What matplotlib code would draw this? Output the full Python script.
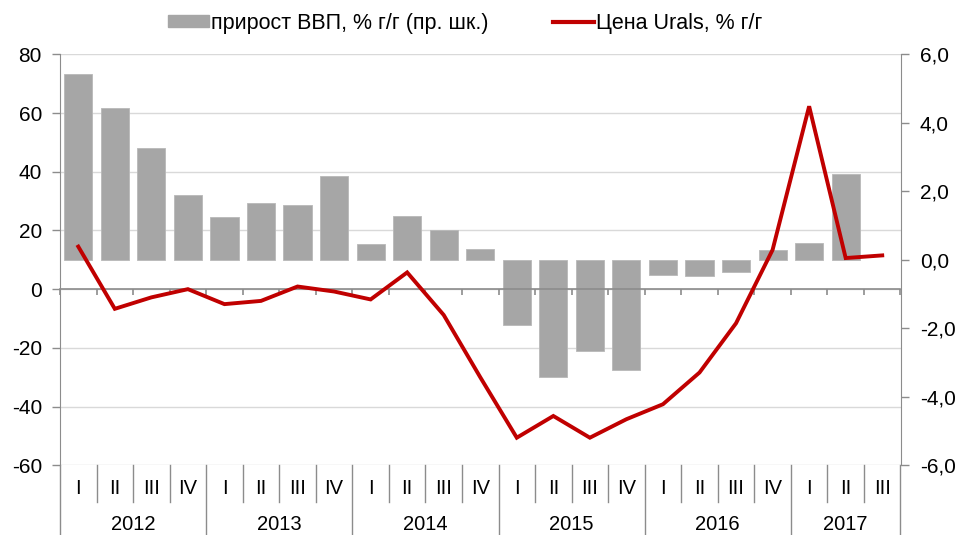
import matplotlib
matplotlib.use("Agg")
import matplotlib.pyplot as plt
import numpy as np
from matplotlib.lines import Line2D
from matplotlib.patches import Patch

plt.rcParams['font.family'] = ['Liberation Sans', 'DejaVu Sans']

# ---- data ----
years = ["2012", "2013", "2014", "2015", "2016", "2017"]
quarters_per_year = [4, 4, 4, 4, 4, 3]
quarter_names = ["I", "II", "III", "IV"]

urals = [14.5, -6.7, -2.8, 0.0,
         -5.1, -4.0, 0.9, -0.8,
         -3.5, 5.7, -8.8, -30.0,
         -50.6, -43.2, -50.6, -44.3,
         -39.2, -28.4, -11.6, 13.4,
         62.3, 10.6, 11.5]

gdp = [5.42, 4.42, 3.26, 1.89,
       1.24, 1.67, 1.61, 2.46,
       0.45, 1.28, 0.86, 0.32,
       -1.90, -3.41, -2.65, -3.23,
       -0.43, -0.48, -0.36, 0.29,
       0.48, 2.50, np.nan]

left_ticks = [80, 60, 40, 20, 0, -20, -40, -60]
left_ticklabels = ["80", "60", "40", "20", "0", "-20", "-40", "-60"]
right_ticks = [6, 4, 2, 0, -2, -4, -6]
right_ticklabels = ["6,0", "4,0", "2,0", "0,0", "-2,0", "-4,0", "-6,0"]

label_gdp = "прирост ВВП, % г/г (пр. шк.)"
label_urals = "Цена Urals, % г/г"

# ---- style ----
BAR = "#A6A6A6"
RED = "#C00000"
GRID = "#D9D9D9"
AXC = "#8C8C8C"
TXT = "#000000"
FS = 15
FS_CAT = 14.5
FS_LEG = 15.5

x = np.arange(len(urals))
quarter_labels = [quarter_names[i] for n in quarters_per_year for i in range(n)]

fig = plt.figure(figsize=(9.59, 5.35), dpi=100)
pos = [60/959, 1-465.3/535, 840.5/959, 411/535]

ax = fig.add_axes(pos)
ax2 = ax.twinx()
ax3 = fig.add_axes(pos, sharex=ax, sharey=ax)
ax3.patch.set_visible(False)

# left axis (line scale) with grid
ax.set_xlim(-0.5, len(x)-0.5)
ax.set_ylim(-60, 80)
ax.set_yticks(left_ticks)
ax.set_yticklabels(left_ticklabels)
ax.grid(axis='y', color=GRID, linewidth=1.0)
ax.set_axisbelow(True)
ax.tick_params(axis='y', direction='out', length=5.5, width=1, color=AXC,
               labelsize=FS, labelcolor=TXT, pad=7.5)
ax.tick_params(axis='x', bottom=False, labelbottom=False)
for s in ['top', 'right', 'bottom']:
    ax.spines[s].set_visible(False)
ax.spines['left'].set_color(AXC)

# right axis (bar scale)
ax2.bar(x, gdp, width=0.77, color=BAR, edgecolor="#B8B8B8", linewidth=0.6, zorder=2)
ax2.set_ylim(-6, 6)
ax2.set_yticks(right_ticks)
ax2.set_yticklabels(right_ticklabels)
ax2.tick_params(axis='y', direction='out', length=5.5, width=1, color=AXC,
                labelsize=FS, labelcolor=TXT, pad=8.5)
for s in ['top', 'left', 'bottom']:
    ax2.spines[s].set_visible(False)
ax2.spines['right'].set_color(AXC)

# top axes: line and category axis at zero
ax3.plot(x, urals, color=RED, linewidth=2.8, solid_joinstyle='miter', zorder=3)
for s in ['top', 'left', 'right']:
    ax3.spines[s].set_visible(False)
ax3.spines['bottom'].set_position(('data', 0))
ax3.spines['bottom'].set_color(AXC)
ax3.spines['bottom'].set_linewidth(1.2)
ax3.set_xticks(np.arange(len(x)+1) - 0.5)
ax3.tick_params(axis='x', direction='out', length=4, width=1.2, color=AXC,
                labelbottom=False)
ax3.tick_params(axis='y', left=False, labelleft=False)

# multi-level category labels below the plot
trans = ax.get_xaxis_transform()
q_y, y_y = -0.057, -0.145
q_sep, y_sep = -0.089, -0.17
for i, q in enumerate(quarter_labels):
    ax.text(i, q_y, q, transform=trans, ha='center', va='center',
            fontsize=FS_CAT, color=TXT, clip_on=False)
start = 0
bounds = [-0.5]
for yr, n in zip(years, quarters_per_year):
    ax.text(start + (n-1)/2, y_y, yr, transform=trans, ha='center', va='center',
            fontsize=FS_CAT, color=TXT, clip_on=False)
    start += n
    bounds.append(start - 0.5)
for b in np.arange(len(x)+1) - 0.5:
    if b in bounds:
        ax.plot([b, b], [0, y_sep], transform=trans, color=AXC, lw=1, clip_on=False)
    else:
        ax.plot([b, b], [0, q_sep], transform=trans, color=AXC, lw=1, clip_on=False)

# legend
handles = [Patch(facecolor=BAR, edgecolor=BAR),
           Line2D([0], [0], color=RED, linewidth=3)]
fig.legend(handles, [label_gdp, label_urals], loc='center',
           bbox_to_anchor=(465/959, 1-23/535), ncol=2, frameon=False,
           fontsize=FS_LEG, handlelength=1.9, handletextpad=0.1,
           columnspacing=3.0, handleheight=0.5, borderpad=0)

fig.savefig("out.png", dpi=100)
